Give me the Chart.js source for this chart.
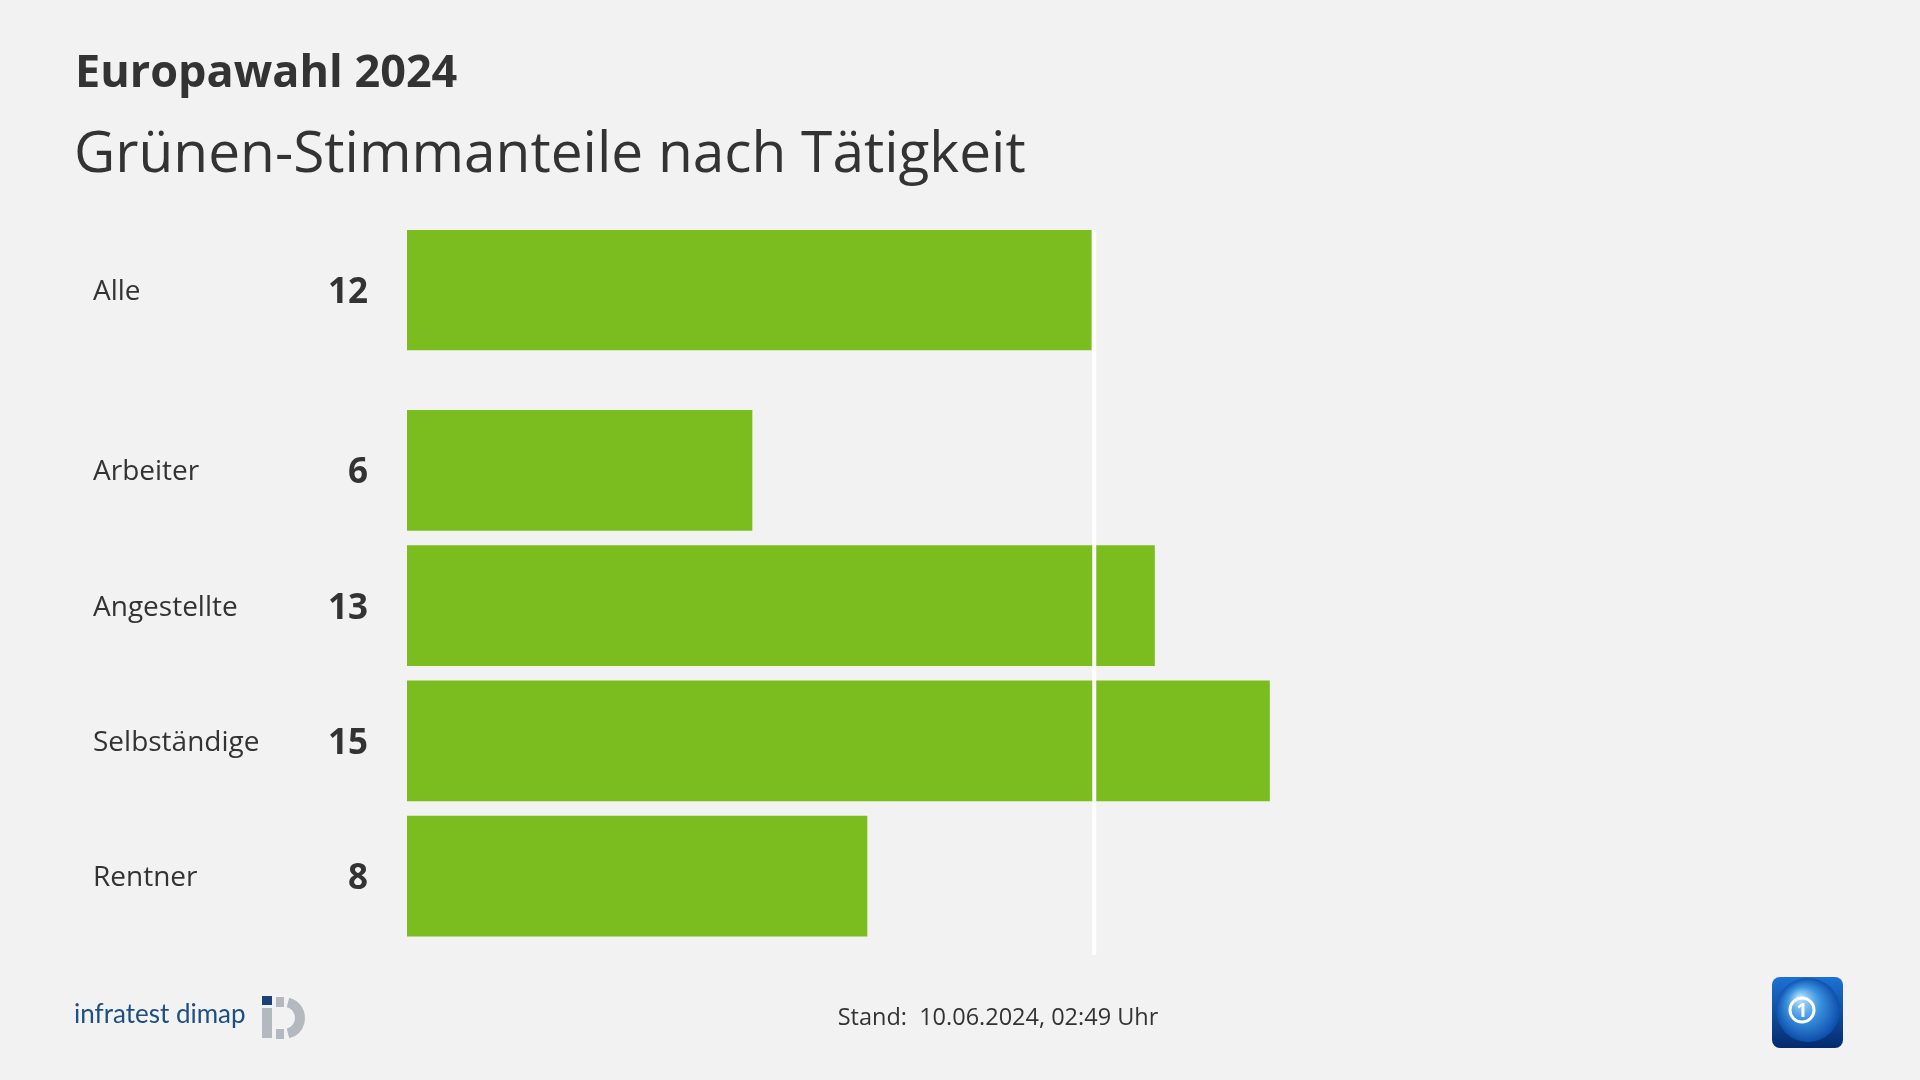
<!DOCTYPE html>
<html>
<head>
<meta charset="utf-8">
<script src="https://cdn.jsdelivr.net/npm/chart.js@4.4.1/dist/chart.umd.min.js"></script>
<style>
html, body { margin: 0; padding: 0; background: #f2f2f2; }
#wrap { position: relative; width: 1920px; height: 1080px; }
canvas { position: absolute; left: 0; top: 0; }
</style>
</head>
<body>
<div id="wrap"><canvas id="chart" width="1920" height="1080"></canvas></div>
<script>
var title = 'Europawahl 2024';
var subtitle = 'Grünen-Stimmanteile nach Tätigkeit';
var categories = ['Alle', 'Arbeiter', 'Angestellte', 'Selbständige', 'Rentner'];
var values = [11.9, 6, 13, 15, 8];
var valueLabels = ['12', '6', '13', '15', '8'];
var footer = 'Stand:  10.06.2024, 02:49 Uhr';
var source = 'infratest dimap';

var FONT = '"Open Sans", sans-serif';
var TEXT = '#333333';

// "Alle" row stands a bit apart from the others
function rowPos(i) {
    return i === 0 ? 0 : i + 1 / 3;
}

var points = [];
for (var i in values) {
    points.push({ x: values[i], y: rowPos(+i) });
}

function drawInfratest(ctx) {
    ctx.save();
    ctx.fillStyle = '#1d4f82';
    ctx.font = '26px Lato, sans-serif';
    ctx.textAlign = 'left';
    ctx.textBaseline = 'alphabetic';
    ctx.fillText(source, 74, 1023);
    // the little "i" mark
    ctx.fillStyle = '#17437a';
    ctx.fillRect(262, 996, 10, 9);
    ctx.fillStyle = '#b3b9be';
    ctx.fillRect(262, 1008, 10, 30);
    ctx.beginPath();
    ctx.arc(284, 1018, 21, -Math.PI * 0.42, Math.PI * 0.42);
    ctx.arc(284, 1018, 11, Math.PI * 0.42, -Math.PI * 0.42, true);
    ctx.closePath();
    ctx.fill();
    ctx.fillRect(276, 997, 8, 10);
    ctx.fillRect(276, 1029, 8, 10);
    ctx.restore();
}

function drawArd(ctx) {
    var x = 1772, y = 977, w = 71, h = 71, r = 8;
    ctx.save();
    var g = ctx.createLinearGradient(x, y, x, y + h);
    g.addColorStop(0, '#1b72d4');
    g.addColorStop(1, '#052a6c');
    ctx.beginPath();
    ctx.moveTo(x + r, y);
    ctx.arcTo(x + w, y, x + w, y + h, r);
    ctx.arcTo(x + w, y + h, x, y + h, r);
    ctx.arcTo(x, y + h, x, y, r);
    ctx.arcTo(x, y, x + w, y, r);
    ctx.closePath();
    ctx.fillStyle = g;
    ctx.fill();
    ctx.clip();
    var rg = ctx.createRadialGradient(1800, 998, 3, 1808, 1010, 33);
    rg.addColorStop(0, '#a6d8f8');
    rg.addColorStop(0.45, '#3a92e0');
    rg.addColorStop(1, '#0b4aa8');
    ctx.beginPath();
    ctx.arc(1808, 1010, 32, 0, Math.PI * 2);
    ctx.fillStyle = rg;
    ctx.fill();
    ctx.strokeStyle = '#ffffff';
    ctx.lineWidth = 3;
    ctx.beginPath();
    ctx.arc(1802, 1010, 12, 0, Math.PI * 2);
    ctx.stroke();
    ctx.fillStyle = '#ffffff';
    ctx.font = 'bold 19px ' + FONT;
    ctx.textAlign = 'center';
    ctx.fillText('1', 1802, 1017);
    ctx.restore();
}

var decor = {
    id: 'decor',
    beforeDraw: function(chart) {
        var ctx = chart.ctx;
        ctx.save();
        ctx.fillStyle = '#f2f2f2';
        ctx.fillRect(0, 0, chart.width, chart.height);
        ctx.restore();
    },
    afterDatasetsDraw: function(chart) {
        var ctx = chart.ctx;
        var xs = chart.scales.x, ys = chart.scales.y, area = chart.chartArea;

        // white reference line at "Alle"
        var lx = xs.getPixelForValue(values[0]);
        ctx.save();
        ctx.fillStyle = '#ffffff';
        ctx.fillRect(lx + 1, area.top, 4, area.bottom - area.top);

        // titles
        ctx.fillStyle = TEXT;
        ctx.textAlign = 'left';
        ctx.textBaseline = 'alphabetic';
        ctx.font = 'bold 45px ' + FONT;
        ctx.fillText(title, 75, 87);
        ctx.font = '56.8px ' + FONT;
        ctx.fillText(subtitle, 74, 172);

        // row labels and values
        for (var i = 0; i < categories.length; i++) {
            var cy = ys.getPixelForValue(rowPos(i));
            ctx.textAlign = 'left';
            ctx.font = '28px ' + FONT;
            ctx.fillText(categories[i], 93, cy + 10);
            ctx.textAlign = 'right';
            ctx.font = 'bold 35px ' + FONT;
            ctx.fillText(valueLabels[i], 368, cy + 13);
        }

        // footer
        ctx.textAlign = 'center';
        ctx.font = '23.5px ' + FONT;
        ctx.fillText(footer, 998, 1025);
        ctx.restore();

        drawInfratest(ctx);
        drawArd(ctx);
    }
};

var ctx = document.getElementById('chart');
var chart = new Chart(ctx, {
    type: 'bar',
    data: {
        datasets: [{
            label: 'Grüne',
            data: points,
            backgroundColor: '#7bbd1e',
            borderWidth: 0,
            barThickness: 120
        }]
    },
    options: {
        indexAxis: 'y',
        responsive: false,
        animation: false,
        devicePixelRatio: 1,
        layout: { padding: { left: 407, right: 75.5, top: 230, bottom: 125 } },
        plugins: { legend: { display: false }, tooltip: { enabled: false } },
        scales: {
            x: { type: 'linear', min: 0, max: 25, display: false },
            y: { type: 'linear', reverse: true, offset: false, min: -0.444, max: 4.917, display: false }
        }
    },
    plugins: [decor]
});
</script>
</body>
</html>
